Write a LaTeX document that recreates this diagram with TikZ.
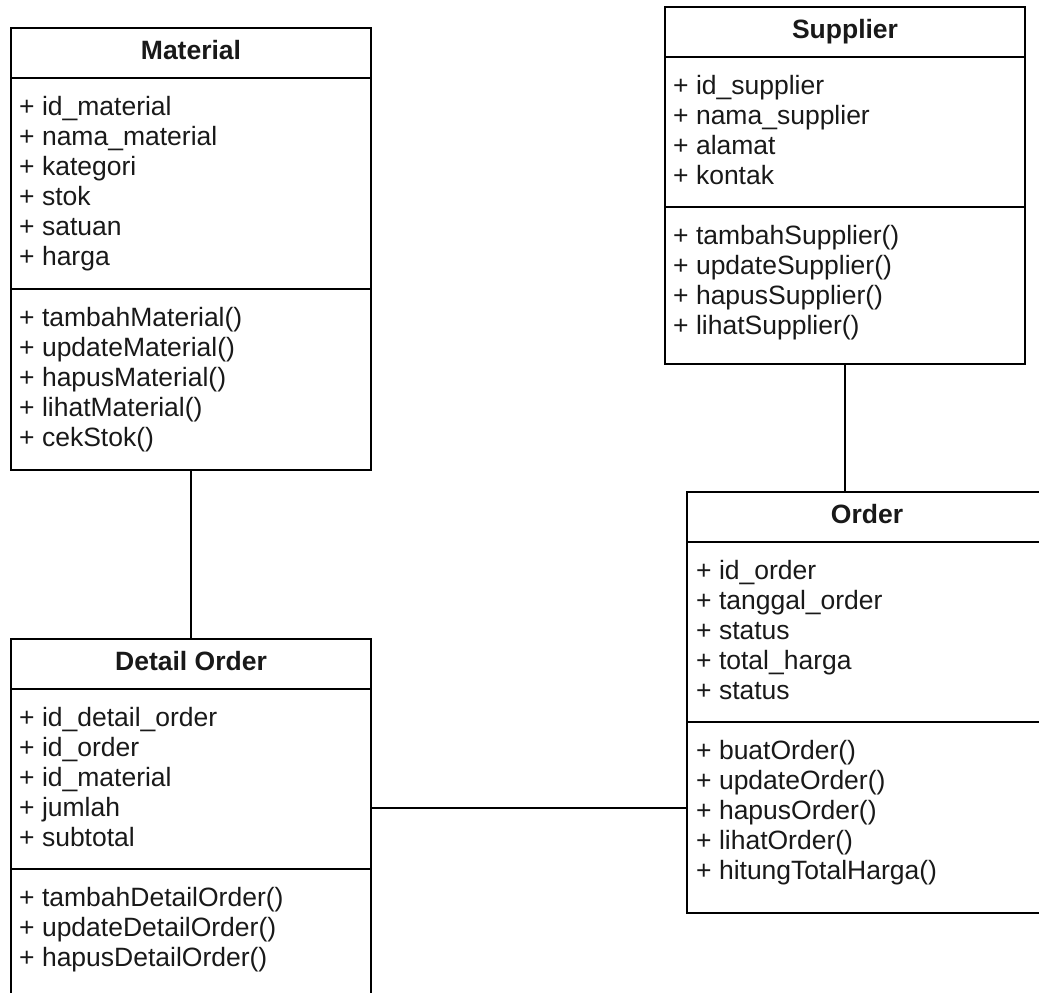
\documentclass[tikz,border=0pt]{standalone}
\usepackage{fontspec}
\setmainfont{Liberation Sans}
\usetikzlibrary{positioning}
\newcommand{\umlsize}{\fontsize{26.5}{30}\selectfont}

\begin{document}
\begin{tikzpicture}[y=-1pt,x=1pt]
            \tikzset{
                classhead/.style={draw,line width=1.8pt,minimum width=360pt,minimum height=50pt,
                    inner sep=0pt,outer sep=0pt,anchor=north,font=\umlsize\bfseries,
                    text height=19pt,text depth=6pt,text=black!90},
                classpart/.style={draw,line width=1.8pt,minimum width=360pt,inner sep=0pt,outer sep=0pt},
                members/.style={align=left,inner sep=0pt,font=\umlsize,text=black!90,
                    execute at begin node=\strut},
                link/.style={line width=1.8pt}
            }
            \useasboundingbox (0,0) rectangle (1039,993);
            \clip (0,0) rectangle (1039,993);

            % Material
            \node[classhead] (mathead) at (191,28) {Material};
            \node[classpart,minimum height=211pt,below=0pt of mathead] (matattr) {};
            \node[classpart,minimum height=181pt,below=0pt of matattr] (matops) {};
            \node[members,below right=18.5pt and 8pt of matattr.north west] (matattrtxt)
                {+ id\_material\\+ nama\_material\\+ kategori\\+ stok\\+ satuan\\+ harga};
            \node[members,below right=18.5pt and 8pt of matops.north west] (matopstxt)
                {+ tambahMaterial()\\+ updateMaterial()\\+ hapusMaterial()\\+ lihatMaterial()\\+ cekStok()};

            % Supplier
            \node[classhead] (suphead) at (845,7) {Supplier};
            \node[classpart,minimum height=150pt,below=0pt of suphead] (supattr) {};
            \node[classpart,minimum height=157pt,below=0pt of supattr] (supops) {};
            \node[members,below right=18.5pt and 8pt of supattr.north west] (supattrtxt)
                {+ id\_supplier\\+ nama\_supplier\\+ alamat\\+ kontak};
            \node[members,below right=18.5pt and 8pt of supops.north west] (supopstxt)
                {+ tambahSupplier()\\+ updateSupplier()\\+ hapusSupplier()\\+ lihatSupplier()};

            % Order
            \node[classhead] (ordhead) at (867,492) {Order};
            \node[classpart,minimum height=180pt,below=0pt of ordhead] (ordattr) {};
            \node[classpart,minimum height=191pt,below=0pt of ordattr] (ordops) {};
            \node[members,below right=18.5pt and 9pt of ordattr.north west] (ordattrtxt)
                {+ id\_order\\+ tanggal\_order\\+ status\\+ total\_harga\\+ status};
            \node[members,below right=18.5pt and 9pt of ordops.north west] (ordopstxt)
                {+ buatOrder()\\+ updateOrder()\\+ hapusOrder()\\+ lihatOrder()\\+ hitungTotalHarga()};

            % Detail Order
            \node[classhead] (dethead) at (191,639) {Detail Order};
            \node[classpart,minimum height=180pt,below=0pt of dethead] (detattr) {};
            \node[classpart,minimum height=127pt,below=0pt of detattr] (detops) {};
            \node[members,below right=18.5pt and 8pt of detattr.north west] (detattrtxt)
                {+ id\_detail\_order\\+ id\_order\\+ id\_material\\+ jumlah\\+ subtotal};
            \node[members,below right=18.5pt and 8pt of detops.north west] (detopstxt)
                {+ tambahDetailOrder()\\+ updateDetailOrder()\\+ hapusDetailOrder()};

            \coordinate (detord) at (529,808);
            \draw[link] (matops) -- (dethead);
            \draw[link] (supops.south) -- (supops.south |- ordhead.north);
            \draw[link] (detord -| detattr.east) -- (detord -| ordops.west);
        \end{tikzpicture}
\end{document}
